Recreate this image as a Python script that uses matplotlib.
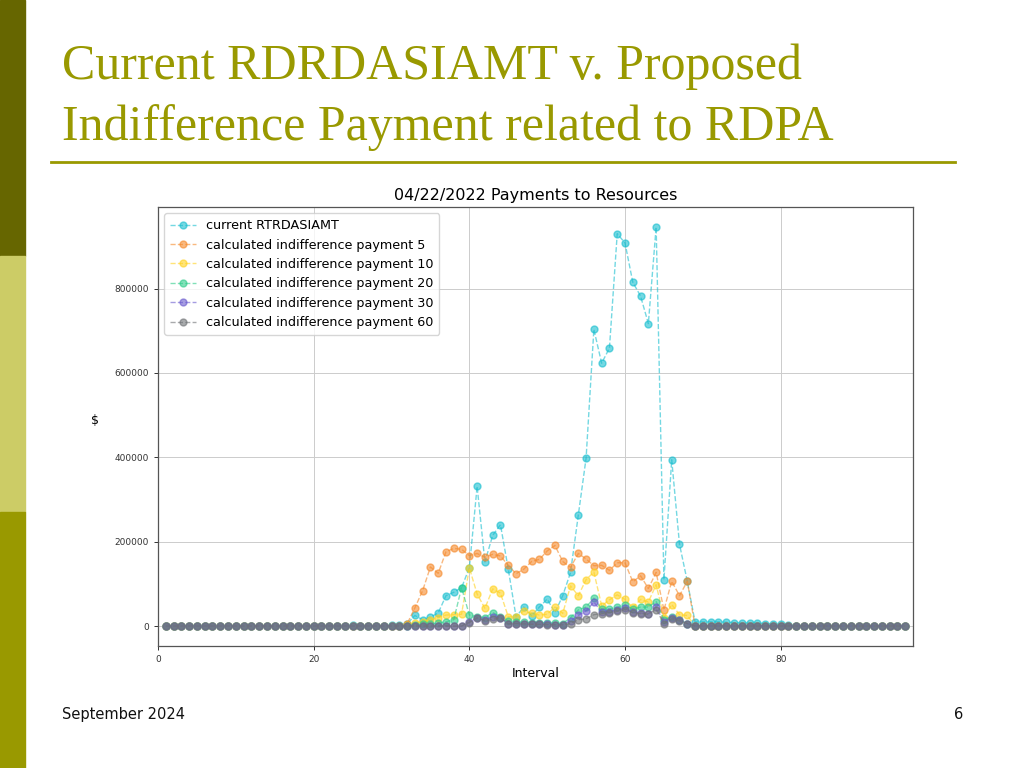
import matplotlib

matplotlib.use("Agg")
import matplotlib.pyplot as plt
from matplotlib.patches import Rectangle
from matplotlib.lines import Line2D

# slide texts
SLIDE_TITLE = ["Current RDRDASIAMT v. Proposed", "Indifference Payment related to RDPA"]
FOOTER = "September 2024"
PAGE = "6"
CHART_TITLE = "04/22/2022 Payments to Resources"

intervals = list(range(1, 97))

current = [
    0, 0, 0, 0, 0, 0, 0, 0, 0, 0, 0, 0, 0, 0, 0, 0, 0, 0, 0, 0,
    0, 0, 0, 0, 2000, 0, 0, 0, 0, 2000, 3000, 5000, 25000, 15000, 21000, 31000, 72000, 80000, 91000, 138000,
    331000, 152000, 215000, 240000, 135000, 22000, 45000, 24000, 45000, 64000,
    32000, 72000, 127000, 263000, 398000, 703000, 623000, 659000, 930000, 908000,
    815000, 782000, 717000, 946000, 110000, 394000, 194000, 106000, 10000, 10000,
    10000, 10000, 9000, 8000, 7000, 7000, 7000, 6000, 5000, 4000,
    3000, 0, 0, 0, 0, 0, 0, 0, 0, 0, 0, 0, 0, 0, 0, 0,
]
pay5 = [
    0, 0, 0, 0, 0, 0, 0, 0, 0, 0, 0, 0, 0, 0, 0, 0, 0, 0, 0, 0,
    0, 0, 0, 0, 0, 0, 0, 0, 0, 0, 0, 5000, 43000, 84000, 140000, 125000, 176000, 184000, 182000, 167000,
    172000, 163000, 170000, 166000, 144000, 124000, 135000, 153000, 158000, 178000,
    191000, 153000, 139000, 172000, 159000, 143000, 144000, 132000, 150000, 150000,
    105000, 119000, 89000, 127000, 38000, 106000, 72000, 106000, 0, 0,
    0, 0, 0, 0, 0, 0, 0, 0, 0, 0,
    0, 0, 0, 0, 0, 0, 0, 0, 0, 0, 0, 0, 0, 0, 0, 0,
]
pay10 = [
    0, 0, 0, 0, 0, 0, 0, 0, 0, 0, 0, 0, 0, 0, 0, 0, 0, 0, 0, 0,
    0, 0, 0, 0, 0, 0, 0, 0, 0, 0, 0, 3000, 8000, 10000, 15000, 20000, 26000, 27000, 28000, 138000,
    76000, 42000, 88000, 78000, 22000, 22000, 36000, 30000, 26000, 28000,
    45000, 30000, 95000, 72000, 110000, 128000, 48000, 62000, 74000, 63000,
    44000, 63000, 57000, 98000, 20000, 51000, 27000, 25000, 0, 0,
    0, 0, 0, 0, 0, 0, 0, 0, 0, 0,
    0, 0, 0, 0, 0, 0, 0, 0, 0, 0, 0, 0, 0, 0, 0, 0,
]
pay20 = [
    0, 0, 0, 0, 0, 0, 0, 0, 0, 0, 0, 0, 0, 0, 0, 0, 0, 0, 0, 0,
    0, 0, 0, 0, 0, 0, 0, 0, 0, 0, 0, 0, 3000, 4000, 5000, 7000, 10000, 15000, 91000, 26000,
    22000, 20000, 32000, 22000, 12000, 10000, 9000, 8000, 8000, 7000,
    7000, 6000, 20000, 38000, 45000, 66000, 40000, 40000, 44000, 50000,
    40000, 45000, 45000, 58000, 15000, 22000, 15000, 6000, 0, 0,
    0, 0, 0, 0, 0, 0, 0, 0, 0, 0,
    0, 0, 0, 0, 0, 0, 0, 0, 0, 0, 0, 0, 0, 0, 0, 0,
]
pay30 = [
    0, 0, 0, 0, 0, 0, 0, 0, 0, 0, 0, 0, 0, 0, 0, 0, 0, 0, 0, 0,
    0, 0, 0, 0, 0, 0, 0, 0, 0, 0, 0, 0, 0, 0, 0, 0, 0, 0, 0, 10000,
    18000, 14000, 22000, 20000, 6000, 6000, 5000, 5000, 4000, 4000,
    3000, 3000, 12000, 25000, 36000, 57000, 33000, 34000, 38000, 42000,
    33000, 31000, 29000, 45000, 10000, 20000, 14000, 6000, 0, 0,
    0, 0, 0, 0, 0, 0, 0, 0, 0, 0,
    0, 0, 0, 0, 0, 0, 0, 0, 0, 0, 0, 0, 0, 0, 0, 0,
]
pay60 = [
    0, 0, 0, 0, 0, 0, 0, 0, 0, 0, 0, 0, 0, 0, 0, 0, 0, 0, 0, 0,
    0, 0, 0, 0, 0, 0, 0, 0, 0, 0, 0, 0, 0, 0, 0, 0, 0, 0, 0, 8000,
    20000, 12000, 16000, 20000, 5000, 6000, 5000, 4000, 4000, 3000,
    3000, 2500, 6000, 15000, 17000, 27000, 29000, 32000, 35000, 39000,
    32000, 29000, 28000, 39000, 6000, 17000, 12000, 6000, 0, 0,
    0, 0, 0, 0, 0, 0, 0, 0, 0, 0,
    0, 0, 0, 0, 0, 0, 0, 0, 0, 0, 0, 0, 0, 0, 0, 0,
]

series_labels = [
    "current RTRDASIAMT",
    "calculated indifference payment 5",
    "calculated indifference payment 10",
    "calculated indifference payment 20",
    "calculated indifference payment 30",
    "calculated indifference payment 60",
]
series_values = [current, pay5, pay10, pay20, pay30, pay60]
series_colors = ["#17becf", "#f5892a", "#ffd21f", "#2ecc8a", "#6a5acd", "#6f7275"]

OLIVE = "#999900"

fig = plt.figure(figsize=(10.24, 7.68), dpi=100)
fig.patch.set_facecolor("white")

# left side bar, three blocks
W, H = 1024, 768
for y0, y1, c in [(0, 256, "#666600"), (256, 512, "#cccc66"), (512, 768, OLIVE)]:
    fig.patches.append(Rectangle((0, 1 - y1 / H), 25 / W, (y1 - y0) / H,
                                 transform=fig.transFigure, color=c, zorder=0))

fig.text(62 / W, 1 - 79 / H, SLIDE_TITLE[0], color=OLIVE, fontsize=36,
         family="Liberation Serif", va="baseline", ha="left")
fig.text(62 / W, 1 - 140 / H, SLIDE_TITLE[1], color=OLIVE, fontsize=36,
         family="Liberation Serif", va="baseline", ha="left")
fig.lines.append(Line2D([51 / W, 955 / W], [1 - 162 / H, 1 - 162 / H],
                        transform=fig.transFigure, color=OLIVE, linewidth=2))
fig.text(62 / W, 1 - 719 / H, FOOTER, fontsize=10.5, va="baseline", ha="left", color="#111111")
fig.text(963 / W, 1 - 719 / H, PAGE, fontsize=10.5, va="baseline", ha="right", color="#111111")

ax = fig.add_axes([158 / W, 1 - 646 / H, (913 - 158) / W, (646 - 207) / H])
for label, vals, color in zip(series_labels, series_values, series_colors):
    ax.plot(intervals, vals, linestyle="--", marker="o", color=color, alpha=0.6,
            linewidth=1, markersize=5, label=label)

ax.set_xlim(0, 97)
ax.set_xticks([0, 20, 40, 60, 80])
ax.set_yticks([0, 200000, 400000, 600000, 800000])
ax.grid(True, color="#cccccc", linewidth=0.7)
ax.set_axisbelow(True)
ax.tick_params(labelsize=6.5, colors="#333333", length=3, width=0.7)
for s in ax.spines.values():
    s.set_color("#555555")
    s.set_linewidth(0.9)
ax.set_title(CHART_TITLE, fontsize=11.5, pad=5)
ax.set_xlabel("Interval", fontsize=9, labelpad=2)
ax.set_ylabel("$", fontsize=9, rotation=0, labelpad=14)
ax.legend(loc="upper left", fontsize=9.2, framealpha=0.8, borderpad=0.45, labelspacing=0.5)

fig.savefig("out.png", dpi=100, facecolor="white")
